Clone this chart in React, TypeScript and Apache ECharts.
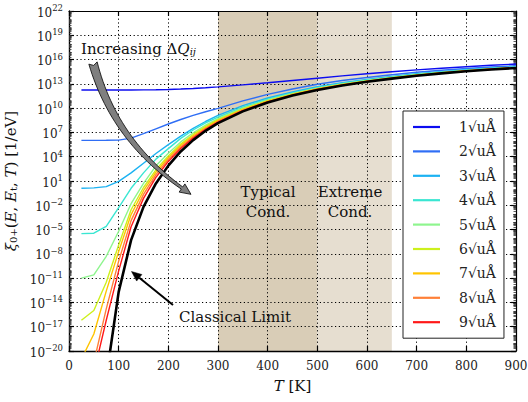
import React, { useEffect, useRef } from 'react';
import * as echarts from 'echarts';

const FONT = '"DejaVu Serif", "Liberation Serif", serif';

// Temperature grid [K]
const temperature = [25, 50, 75, 100, 125, 150, 175, 200, 225, 250, 275, 300, 350, 400, 450, 500, 550, 600, 650, 700, 750, 800, 850, 900];

// log10 of xi_{0+}(E, Et, T) in 1/eV, one list per spacing (in sqrt(u)·Å)
const logXi1 = [12.24, 12.24, 12.24, 12.24, 12.25, 12.26, 12.28, 12.31, 12.36, 12.43, 12.52, 12.63, 12.88, 13.14, 13.42, 13.7, 13.98, 14.25, 14.5, 14.73, 14.93, 15.12, 15.29, 15.45];
const logXi2 = [6.02, 6.02, 6.03, 6.05, 6.3, 6.85, 7.45, 8.04, 8.6, 9.1, 9.55, 9.98, 10.9, 11.7, 12.37, 12.95, 13.41, 13.79, 14.13, 14.43, 14.68, 14.89, 15.09, 15.23];
const logXi3 = [0.1, 0.15, 0.3, 0.95, 2.0, 3.2, 4.4, 5.5, 6.55, 7.5, 8.35, 9.1, 10.32, 11.25, 12.0, 12.64, 13.14, 13.55, 13.91, 14.24, 14.51, 14.74, 14.95, 15.1];
const logXi4 = [-5.5, -5.45, -4.6, -2.3, 0.1, 2.0, 3.7, 5.0, 6.27, 7.3, 8.17, 8.9, 10.13, 11.11, 11.89, 12.54, 13.05, 13.47, 13.85, 14.18, 14.46, 14.69, 14.91, 15.07];
const logXi5 = [-11.0, -10.6, -8.3, -5.2, -1.8, 0.7, 2.87, 4.42, 5.83, 6.96, 7.91, 8.7, 9.99, 11.0, 11.8, 12.46, 12.98, 13.41, 13.79, 14.13, 14.41, 14.65, 14.87, 15.04];
const logXi6 = [-16.2, -15.0, -11.5, -6.9, -2.55, 0.2, 2.38, 4.08, 5.56, 6.75, 7.74, 8.57, 9.9, 10.93, 11.74, 12.41, 12.94, 13.37, 13.76, 14.1, 14.39, 14.63, 14.85, 15.01];
const logXi7 = [-21.0, -17.9, -12.6, -7.7, -3.15, -0.2, 2.1, 3.88, 5.38, 6.59, 7.6, 8.45, 9.81, 10.87, 11.69, 12.37, 12.9, 13.34, 13.73, 14.07, 14.36, 14.61, 14.83, 15.0];
const logXi8 = [null, -21.4, -14.8, -8.9, -3.9, -0.65, 1.79, 3.66, 5.19, 6.44, 7.48, 8.35, 9.74, 10.81, 11.64, 12.33, 12.87, 13.31, 13.7, 14.05, 14.34, 14.59, 14.81, 14.98];
const logXi9 = [null, -22.7, -16.2, -10.1, -4.65, -1.15, 1.44, 3.42, 5.01, 6.3, 7.37, 8.27, 9.69, 10.77, 11.6, 12.3, 12.84, 13.29, 13.68, 14.03, 14.33, 14.57, 14.8, 14.97];
const logXiClassical = [null, null, -23.3, -12.7, -6.3, -2.2, 0.7, 2.9, 4.65, 6.05, 7.2, 8.15, 9.6, 10.7, 11.55, 12.25, 12.8, 13.25, 13.65, 14.0, 14.3, 14.55, 14.78, 14.95];

const curves = [logXi1, logXi2, logXi3, logXi4, logXi5, logXi6, logXi7, logXi8, logXi9];
const spacingLabels = ['1', '2', '3', '4', '5', '6', '7', '8', '9'];
const curveColors = ['#0c0cf0', '#2f6ef5', '#1cb2f2', '#3ae6d2', '#8ef58e', '#cdf01c', '#ffc400', '#ff8038', '#ff1818'];

// Axis ticks (decimal exponents) and temperature ranges
const yTicks = [-20, -17, -14, -11, -8, -5, -2, 1, 4, 7, 10, 13, 16, 19, 22];
const typicalRange = [300, 500];
const extremeRange = [500, 650];

const legendName = (n: string) => `${n}\u221AuÅ`;

function minorLogTicks(): number[] {
  const out: number[] = [];
  for (let n = -20; n < 22; n++) {
    for (let k = 2; k <= 9; k++) out.push(n + Math.log10(k));
  }
  return out;
}

// Curved "increasing" arrow outline built along a quadratic Bezier
function curvedArrow(): number[][] {
  const p0 = [93, 63], p1 = [114, 140], p2 = [182, 188];
  const N = 30;
  const left: number[][] = [];
  const right: number[][] = [];
  const q = (t: number) => [
    (1 - t) * (1 - t) * p0[0] + 2 * (1 - t) * t * p1[0] + t * t * p2[0],
    (1 - t) * (1 - t) * p0[1] + 2 * (1 - t) * t * p1[1] + t * t * p2[1],
  ];
  const dq = (t: number) => {
    const dx = 2 * (1 - t) * (p1[0] - p0[0]) + 2 * t * (p2[0] - p1[0]);
    const dy = 2 * (1 - t) * (p1[1] - p0[1]) + 2 * t * (p2[1] - p1[1]);
    const l = Math.hypot(dx, dy);
    return [dx / l, dy / l];
  };
  for (let i = 0; i <= N; i++) {
    const t = i / N;
    const c = q(t);
    const d = dq(t);
    const hw = 4.3 - 3.0 * t;
    left.push([c[0] - d[1] * hw, c[1] + d[0] * hw]);
    right.push([c[0] + d[1] * hw, c[1] - d[0] * hw]);
  }
  const d1 = dq(1);
  const hh = 5;
  const tip = [p2[0] + d1[0] * 11, p2[1] + d1[1] * 11];
  const d0 = dq(0);
  const notch = [p0[0] + d0[0] * 2.5, p0[1] + d0[1] * 2.5];
  return [
    ...left,
    [p2[0] - d1[1] * hh, p2[1] + d1[0] * hh],
    tip,
    [p2[0] + d1[1] * hh, p2[1] - d1[0] * hh],
    ...right.reverse(),
    notch,
  ];
}

function straightArrowHead(tail: number[], tip: number[], len: number, half: number) {
  const dx = tip[0] - tail[0], dy = tip[1] - tail[1];
  const l = Math.hypot(dx, dy);
  const ux = dx / l, uy = dy / l;
  const base = [tip[0] - ux * len, tip[1] - uy * len];
  return {
    base,
    head: [tip, [base[0] - uy * half, base[1] + ux * half], [base[0] + uy * half, base[1] - ux * half]],
  };
}

const supFmt = (v: number) => String(Math.round(v)).replace('-', '\u2212');

export default function App() {
  const ref = useRef<HTMLDivElement>(null);

  useEffect(() => {
    if (!ref.current) return;
    const chart = echarts.init(ref.current, null, { renderer: 'svg' });

    const dotted = { color: '#000', width: 1, type: [1.2, 2.6] as number[] };
    const minor = minorLogTicks();
    const classicalTail = [173, 305];
    const classicalTip = [131.5, 271.5];
    const arrowB = straightArrowHead(classicalTail, classicalTip, 10, 4.2);

    const commonY = { type: 'value' as const, min: -20, max: 22 };

    const lineSeries: any[] = curves.map((vals, i) => ({
      name: legendName(spacingLabels[i]),
      type: 'line',
      xAxisIndex: 0,
      yAxisIndex: 0,
      data: temperature.map((t, j) => [t, vals[j]]),
      symbol: 'none',
      connectNulls: false,
      clip: true,
      lineStyle: { color: curveColors[i], width: 1.4 },
      itemStyle: { color: curveColors[i] },
      z: 3 + i,
    }));

    const option: any = {
      animation: false,
      backgroundColor: '#fff',
      textStyle: { fontFamily: FONT },
      grid: { left: 69, top: 11, right: 12, bottom: 51, containLabel: false, outerBoundsMode: 'none' },
      xAxis: [
        {
          type: 'value', min: 0, max: 900, interval: 100, position: 'bottom',
          axisLine: { show: true, onZero: false, lineStyle: { color: '#000', width: 1.4 } },
          axisTick: { show: true, inside: true, length: 5, lineStyle: { color: '#000', width: 1.2 } },
          axisLabel: { show: true, margin: 9, color: '#222', fontFamily: FONT, fontSize: 12 },
          splitLine: { show: true, lineStyle: dotted },
          name: '{i|T} [K]', nameLocation: 'middle', nameGap: 27,
          nameTextStyle: { fontFamily: FONT, fontSize: 15, color: '#111', rich: { i: { fontFamily: FONT, fontSize: 15, fontStyle: 'italic', color: '#111' } } },
        },
        {
          type: 'value', min: 0, max: 900, interval: 100, position: 'top',
          axisLine: { show: true, onZero: false, lineStyle: { color: '#000', width: 1.2 } },
          axisTick: { show: true, inside: true, length: 5, lineStyle: { color: '#000', width: 1.2 } },
          axisLabel: { show: false }, splitLine: { show: false },
        },
      ],
      yAxis: [
        {
          ...commonY, position: 'left',
          axisLine: { show: true, onZero: false, lineStyle: { color: '#000', width: 1.4 } },
          axisTick: { show: true, inside: true, length: 5, customValues: yTicks, lineStyle: { color: '#000', width: 1.2 } },
          axisLabel: {
            show: true, margin: 6, customValues: yTicks,
            formatter: (v: number) => `{b|10}{s|${supFmt(v)}}`,
            rich: {
              b: { fontFamily: FONT, fontSize: 12, color: '#222', verticalAlign: 'bottom', lineHeight: 15 },
              s: { fontFamily: FONT, fontSize: 8.5, color: '#222', verticalAlign: 'top', lineHeight: 10 },
            },
          },
          splitLine: { show: true, lineStyle: dotted },
          name: '{i|\u03BE}{sb|0+}{r|(}{i|E}{r|, }{i|E}{sb|t}{r|, }{i|T}{r|) [1/eV]}',
          nameLocation: 'middle', nameRotate: 90, nameGap: 46,
          nameTextStyle: {
            fontFamily: FONT, fontSize: 15, color: '#111',
            rich: {
              i: { fontFamily: FONT, fontSize: 15, fontStyle: 'italic', color: '#111', verticalAlign: 'bottom' },
              r: { fontFamily: FONT, fontSize: 15, color: '#111', verticalAlign: 'bottom' },
              sb: { fontFamily: FONT, fontSize: 10, color: '#111', verticalAlign: 'bottom' },
            },
          },
        },
        {
          ...commonY, position: 'right',
          axisLine: { show: true, onZero: false, lineStyle: { color: '#000', width: 1.2 } },
          axisTick: { show: true, inside: true, length: 5, customValues: yTicks, lineStyle: { color: '#000', width: 1.2 } },
          axisLabel: { show: false }, splitLine: { show: false },
        },
        {
          ...commonY, position: 'left',
          axisLine: { show: false, onZero: false },
          axisTick: { show: true, inside: true, length: 2.5, customValues: minor, lineStyle: { color: '#333', width: 0.8 } },
          axisLabel: { show: false }, splitLine: { show: false },
        },
        {
          ...commonY, position: 'right',
          axisLine: { show: false, onZero: false },
          axisTick: { show: true, inside: true, length: 2.5, customValues: minor, lineStyle: { color: '#333', width: 0.8 } },
          axisLabel: { show: false }, splitLine: { show: false },
        },
      ],
      legend: {
        show: true, orient: 'vertical', left: 403, top: 111,
        data: spacingLabels.map(legendName),
        icon: 'rect',
        itemWidth: 27, itemHeight: 2.2, itemGap: 8.4,
        padding: [8, 8, 8, 10],
        borderColor: '#222', borderWidth: 1, backgroundColor: '#fff',
        selectedMode: false,
        textStyle: { fontFamily: FONT, fontSize: 14, color: '#222', lineHeight: 16, padding: [0, 0, 0, 14] },
        z: 20,
      },
      series: [
        {
          name: 'ranges', type: 'line', data: [], xAxisIndex: 0, yAxisIndex: 0, z: -2, silent: true,
          markArea: {
            silent: true, z: -2,
            data: [
              [{ xAxis: typicalRange[0], itemStyle: { color: '#d9cdb7' } }, { xAxis: typicalRange[1] }],
              [{ xAxis: extremeRange[0], itemStyle: { color: '#e6ded0' } }, { xAxis: extremeRange[1] }],
            ],
          },
        },
        ...lineSeries,
        {
          name: 'Classical Limit', type: 'line', xAxisIndex: 0, yAxisIndex: 0,
          data: temperature.map((t, j) => [t, logXiClassical[j]]),
          symbol: 'none', clip: true,
          lineStyle: { color: '#000', width: 2.6 }, itemStyle: { color: '#000' }, z: 15,
        },
      ],
      graphic: [
        {
          type: 'polygon', shape: { points: curvedArrow() }, z: 30,
          style: { fill: '#7f7f7f', stroke: '#000', lineWidth: 0.8 },
        },
        {
          type: 'line', z: 30,
          shape: { x1: classicalTail[0], y1: classicalTail[1], x2: arrowB.base[0], y2: arrowB.base[1] },
          style: { stroke: '#000', lineWidth: 2 },
        },
        { type: 'polygon', z: 30, shape: { points: arrowB.head }, style: { fill: '#000', stroke: '#000', lineWidth: 0.5 } },
        {
          type: 'text', x: 81, y: 49, z: 30,
          style: {
            text: 'Increasing {d|\u0394}{q|Q}{s|ij}',
            fontFamily: FONT, fontSize: 15, fill: '#111',
            textAlign: 'left', textVerticalAlign: 'middle', align: 'left', verticalAlign: 'middle',
            rich: {
              d: { fontFamily: FONT, fontSize: 15, fill: '#111', verticalAlign: 'bottom' },
              q: { fontFamily: FONT, fontSize: 15, fontStyle: 'italic', fill: '#111', verticalAlign: 'bottom' },
              s: { fontFamily: FONT, fontSize: 10, fontStyle: 'italic', fill: '#111', verticalAlign: 'bottom' },
            },
          },
        },
        ...[
          ['Typical', 268, 192], ['Cond.', 268, 212],
          ['Extreme', 350, 192], ['Cond.', 350, 212],
        ].map(([text, x, y]) => ({
          type: 'text', x, y, z: 30,
          style: {
            text, fontFamily: FONT, fontSize: 15, fill: '#111',
            textAlign: 'center', textVerticalAlign: 'middle', align: 'center', verticalAlign: 'middle',
          },
        })),
        {
          type: 'text', x: 179, y: 317, z: 30,
          style: {
            text: 'Classical Limit', fontFamily: FONT, fontSize: 15, fill: '#111',
            textAlign: 'left', textVerticalAlign: 'middle', align: 'left', verticalAlign: 'middle',
          },
        },
      ],
    };

    chart.setOption(option);
    return () => chart.dispose();
  }, []);

  return (
    <div
      ref={ref}
      style={{ position: 'fixed', left: 0, top: 0, width: 528, height: 402, background: '#fff' }}
    />
  );
}
